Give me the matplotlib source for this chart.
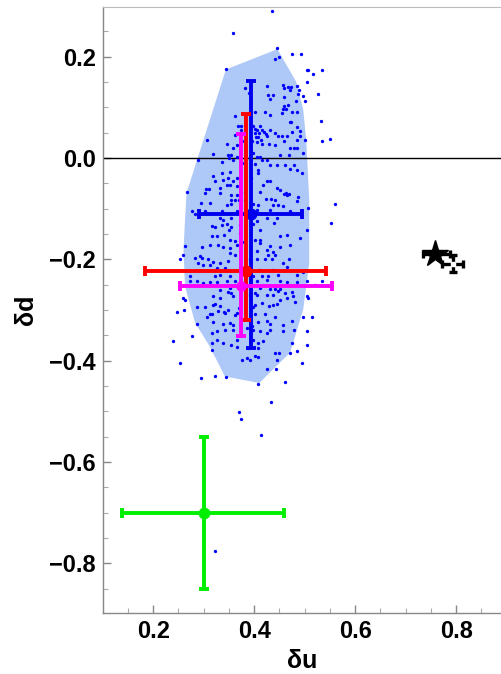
import numpy as np
import matplotlib
matplotlib.use("Agg")
import matplotlib.pyplot as plt
from matplotlib.ticker import MultipleLocator

plt.rcParams['font.family'] = ['Liberation Sans', 'DejaVu Sans']

# ---------------- data ----------------
# sampled points (delta u, delta d)
dots_u = [
    0.435, 0.359, 0.446, 0.475, 0.493, 0.441, 0.450, 0.345, 0.504, 0.506, 0.534, 0.516, 0.505,
    0.382, 0.426, 0.458, 0.466, 0.473, 0.485, 0.460, 0.470, 0.488, 0.389, 0.486, 0.428, 0.437,
    0.460, 0.431, 0.497, 0.526, 0.483, 0.500, 0.460, 0.466, 0.458, 0.462, 0.402, 0.422, 0.431,
    0.456, 0.474, 0.485, 0.361, 0.470, 0.473, 0.532, 0.368, 0.373, 0.398, 0.412, 0.485, 0.401,
    0.406, 0.415, 0.402, 0.409, 0.419, 0.424, 0.431, 0.442, 0.448, 0.455, 0.465, 0.475, 0.491,
    0.491, 0.373, 0.362, 0.551, 0.408, 0.404, 0.413, 0.425, 0.484,
    0.306, 0.346, 0.359, 0.365, 0.375, 0.395, 0.405, 0.415, 0.429, 0.442, 0.459, 0.471, 0.478,
    0.484, 0.500, 0.534, 0.319, 0.349, 0.355, 0.365, 0.392, 0.398, 0.405, 0.412, 0.451, 0.468,
    0.497, 0.289, 0.336, 0.351, 0.359, 0.379, 0.402, 0.415, 0.425, 0.431, 0.445, 0.461, 0.478,
    0.471, 0.484, 0.494, 0.336, 0.353, 0.408, 0.408, 0.339, 0.349, 0.365, 0.319, 0.322, 0.359,
    0.393, 0.425, 0.431, 0.305, 0.311, 0.332, 0.346, 0.352, 0.365, 0.382, 0.418, 0.445, 0.452,
    0.266, 0.303, 0.332, 0.355, 0.365, 0.412, 0.459, 0.463, 0.468, 0.464, 0.487, 0.441, 0.382,
    0.354, 0.362, 0.369, 0.423, 0.433, 0.485, 0.294, 0.313, 0.346, 0.355, 0.398, 0.408, 0.438,
    0.448, 0.458, 0.560, 0.507, 0.276, 0.283, 0.303, 0.336, 0.365, 0.405, 0.431, 0.471, 0.332,
    0.339, 0.355, 0.405, 0.425, 0.445, 0.412, 0.553, 0.316, 0.322, 0.336, 0.346, 0.355, 0.372,
    0.397, 0.439, 0.504, 0.351, 0.341, 0.372, 0.316, 0.326, 0.352, 0.362, 0.402, 0.412, 0.464,
    0.491, 0.451, 0.329, 0.365, 0.379, 0.412, 0.431, 0.296, 0.313, 0.263, 0.339, 0.352, 0.425,
    0.438, 0.451, 0.470, 0.352, 0.362, 0.405, 0.428, 0.441, 0.260, 0.253, 0.283, 0.293, 0.296,
    0.309, 0.319, 0.332, 0.349, 0.392, 0.406, 0.421, 0.435, 0.458, 0.468, 0.289, 0.299, 0.313,
    0.326, 0.342, 0.412, 0.438, 0.464, 0.497, 0.273, 0.322, 0.332, 0.352, 0.398, 0.415, 0.428,
    0.448, 0.484,
    0.273, 0.286, 0.299, 0.313, 0.326, 0.346, 0.362, 0.405, 0.425, 0.451, 0.464, 0.484, 0.504,
    0.520, 0.534, 0.260, 0.263, 0.318, 0.332, 0.349, 0.355, 0.359, 0.392, 0.402, 0.405, 0.425,
    0.438, 0.448, 0.461, 0.474, 0.476, 0.504, 0.507, 0.412, 0.431, 0.441, 0.451, 0.352, 0.332,
    0.248, 0.261, 0.286, 0.303, 0.319, 0.322, 0.332, 0.340, 0.349, 0.369, 0.398, 0.402, 0.415,
    0.430, 0.438, 0.445, 0.451, 0.464, 0.481, 0.306, 0.313, 0.316, 0.329, 0.342, 0.362, 0.365,
    0.402, 0.421, 0.441, 0.497, 0.514, 0.286, 0.319, 0.339, 0.352, 0.359, 0.395, 0.408, 0.425,
    0.431, 0.458, 0.474, 0.276, 0.316, 0.326, 0.342, 0.359, 0.385, 0.398, 0.412, 0.425, 0.431,
    0.458, 0.478, 0.504, 0.239, 0.316, 0.326, 0.339, 0.355, 0.365, 0.398, 0.408, 0.418, 0.474,
    0.504, 0.316, 0.365, 0.388, 0.408, 0.253, 0.375, 0.385, 0.392, 0.402, 0.408, 0.441, 0.450,
    0.445, 0.471, 0.484, 0.494, 0.294, 0.322, 0.344, 0.426, 0.443, 0.408, 0.461, 0.433, 0.369,
    0.374, 0.414, 0.322,
]
dots_d = [
    0.290, 0.247, 0.217, 0.205, 0.205, 0.196, 0.200, 0.175, 0.173, 0.173, 0.174, 0.166, 0.151,
    0.139, 0.142, 0.144, 0.140, 0.140, 0.143, 0.138, 0.134, 0.134, 0.128, 0.126, 0.124, 0.124,
    0.121, 0.117, 0.122, 0.126, 0.113, 0.112, 0.103, 0.105, 0.096, 0.097, 0.092, 0.092, 0.086,
    0.090, 0.091, 0.092, 0.083, 0.071, 0.072, 0.073, 0.064, 0.064, 0.064, 0.064, 0.061, 0.057,
    0.055, 0.056, 0.050, 0.050, 0.051, 0.048, 0.055, 0.050, 0.044, 0.044, 0.043, 0.051, 0.053,
    0.043, 0.055, 0.046, 0.038, 0.042, 0.042, 0.036, 0.043, 0.036,
    0.035, 0.028, 0.020, 0.026, 0.033, 0.033, 0.031, 0.028, 0.027, 0.026, 0.033, 0.020, 0.020,
    0.020, 0.035, 0.033, 0.009, 0.007, 0.007, 0.003, 0.002, 0.010, 0.002, 0.002, 0.007, 0.007,
    0.010, -0.004, -0.008, -0.000, -0.004, -0.010, -0.011, -0.003, -0.004, -0.013, -0.013, -0.013, -0.013,
    -0.022, -0.023, -0.030, -0.030, -0.027, -0.023, -0.030, -0.043, -0.039, -0.039, -0.036, -0.046, -0.046,
    -0.039, -0.046, -0.046, -0.060, -0.061, -0.059, -0.053, -0.053, -0.056, -0.069, -0.053, -0.059, -0.062,
    -0.066, -0.068, -0.069, -0.072, -0.072, -0.066, -0.070, -0.069, -0.070, -0.072, -0.076, -0.082, -0.082,
    -0.082, -0.082, -0.082, -0.081, -0.081, -0.085, -0.089, -0.089, -0.092, -0.091, -0.091, -0.092, -0.092,
    -0.092, -0.095, -0.090, -0.099, -0.105, -0.110, -0.105, -0.105, -0.105, -0.102, -0.102, -0.105, -0.118,
    -0.122, -0.118, -0.125, -0.118, -0.118, -0.141, -0.128, -0.135, -0.136, -0.133, -0.131, -0.136, -0.133,
    -0.131, -0.129, -0.141, -0.141, -0.151, -0.148, -0.154, -0.154, -0.161, -0.164, -0.161, -0.162, -0.151,
    -0.158, -0.154, -0.171, -0.171, -0.166, -0.168, -0.174, -0.176, -0.171, -0.173, -0.176, -0.178, -0.181,
    -0.186, -0.176, -0.171, -0.187, -0.191, -0.184, -0.191, -0.191, -0.191, -0.200, -0.197, -0.194, -0.197,
    -0.199, -0.206, -0.207, -0.204, -0.200, -0.200, -0.200, -0.200, -0.207, -0.200, -0.207, -0.212, -0.212,
    -0.217, -0.217, -0.220, -0.220, -0.214, -0.224, -0.233, -0.233, -0.230, -0.232, -0.233, -0.233, -0.232,
    -0.230, -0.230,
    -0.243, -0.243, -0.247, -0.245, -0.245, -0.243, -0.243, -0.243, -0.241, -0.243, -0.245, -0.245, -0.242,
    -0.250, -0.243, -0.276, -0.281, -0.273, -0.276, -0.265, -0.267, -0.272, -0.270, -0.267, -0.270, -0.270,
    -0.270, -0.263, -0.267, -0.265, -0.273, -0.273, -0.276, -0.257, -0.259, -0.259, -0.259, -0.257, -0.260,
    -0.304, -0.299, -0.294, -0.294, -0.289, -0.288, -0.291, -0.303, -0.299, -0.296, -0.293, -0.289, -0.286,
    -0.291, -0.289, -0.288, -0.281, -0.276, -0.285, -0.313, -0.308, -0.308, -0.301, -0.306, -0.309, -0.306,
    -0.307, -0.308, -0.313, -0.314, -0.314, -0.327, -0.324, -0.327, -0.326, -0.329, -0.332, -0.324, -0.322,
    -0.328, -0.329, -0.322, -0.351, -0.345, -0.342, -0.339, -0.339, -0.336, -0.339, -0.342, -0.345, -0.339,
    -0.341, -0.339, -0.341, -0.361, -0.365, -0.359, -0.365, -0.368, -0.359, -0.359, -0.365, -0.362, -0.365,
    -0.369, -0.378, -0.372, -0.375, -0.375, -0.405, -0.398, -0.395, -0.399, -0.391, -0.393, -0.385, -0.384,
    -0.398, -0.385, -0.380, -0.405, -0.434, -0.430, -0.432, -0.416, -0.416, -0.445, -0.442, -0.482, -0.502,
    -0.515, -0.547, -0.775,
]

# outline of the shaded region
region_u = [0.344, 0.446, 0.483, 0.497, 0.503, 0.509, 0.509, 0.497, 0.471, 0.410,
            0.342, 0.312, 0.283, 0.263, 0.260, 0.263, 0.266]
region_d = [0.175, 0.215, 0.151, 0.096, 0.036, -0.082, -0.207, -0.299, -0.384, -0.444,
            -0.431, -0.372, -0.325, -0.253, -0.181, -0.122, -0.069]

# points with error bars: (u, d, u_minus, u_plus, d_minus, d_plus)
blue_pt = (0.393, -0.111, 0.102, 0.102, 0.263, 0.263)
red_pt = (0.384, -0.222, 0.201, 0.159, 0.098, 0.309)
magenta_pt = (0.373, -0.252, 0.119, 0.181, 0.099, 0.300)
green_pt = (0.300, -0.700, 0.161, 0.159, 0.150, 0.150)
star_pt = (0.759, -0.189, 0.025, 0.029, 0.006, 0.006)
black_pt = (0.793, -0.209, 0.021, 0.021, 0.016, 0.018)

x_ticks = [0.2, 0.4, 0.6, 0.8]
y_ticks = [-0.8, -0.6, -0.4, -0.2, 0.0, 0.2]

# ---------------- figure ----------------
W, H = 502, 674
fig = plt.figure(figsize=(W / 100, H / 100), dpi=100)
ax = fig.add_axes([102.7 / W, 1 - 613 / H, 1 - 102.7 / W, (613 - 7) / H])
ax.set_xlim(0.1, 0.8907)
ax.set_ylim(-0.898, 0.2983)

ax.fill(region_u, region_d, color='#aec8f7', lw=0, zorder=1)
ax.axhline(0.0, color='black', lw=1.0, zorder=2)
ax.plot(dots_u, dots_d, ls='none', marker='o', ms=2.4, mfc='#0000ff', mec='#0000ff',
        mew=0, zorder=3)


def ebar(pt, color, z, ms=7.5, marker='o', mfc=None):
    u, d, um, up, dm, dp = pt
    ax.errorbar([u], [d], xerr=[[um], [up]], yerr=[[dm], [dp]], fmt=marker, color=color,
                ms=ms, mfc=mfc if mfc else color, mec=color, elinewidth=2.8, capsize=3.5,
                capthick=2.8, zorder=z)


ebar(blue_pt, '#0000ee', 4)
ebar(red_pt, '#ff0000', 5)
ebar(magenta_pt, '#ff00ff', 6, ms=6.5)
ebar(green_pt, '#00ee00', 5)

u, d, um, up, dm, dp = black_pt
ax.errorbar([u], [d], xerr=[[um], [up]], yerr=[[dm], [dp]], fmt='s', color='black',
            ms=3, mfc='white', mec='white', elinewidth=2.4, capsize=3, capthick=2.4, zorder=7)
u, d, um, up, dm, dp = star_pt
ax.errorbar([u], [d], xerr=[[um], [up]], yerr=[[dm], [dp]], fmt='*', color='black',
            ms=20, elinewidth=2.4, capsize=3, capthick=2.4, zorder=8)

# axes styling
for side in ['left', 'bottom']:
    ax.spines[side].set_color('#888888')
    ax.spines[side].set_linewidth(1.0)
ax.spines['top'].set_color('#bbbbbb')
ax.spines['right'].set_visible(False)

ax.set_xticks(x_ticks)
ax.set_yticks(y_ticks)
ax.xaxis.set_minor_locator(MultipleLocator(0.05))
ax.yaxis.set_minor_locator(MultipleLocator(0.05))
ax.tick_params(which='major', direction='in', length=6, width=1, color='#888888',
               top=False, right=False, labelsize=17)
ax.tick_params(which='minor', direction='in', length=3.5, width=0.8, color='#aaaaaa',
               top=False, right=False)
ax.tick_params(axis='y', which='major', pad=5)
ax.tick_params(axis='x', which='major', pad=5)
for lab in ax.get_xticklabels() + ax.get_yticklabels():
    lab.set_fontweight('bold')

ax.set_xlabel('δu', fontsize=18, fontweight='bold', labelpad=4)
ax.set_ylabel('δd', fontsize=18, fontweight='bold', labelpad=8)

fig.savefig('out.png', dpi=100)
